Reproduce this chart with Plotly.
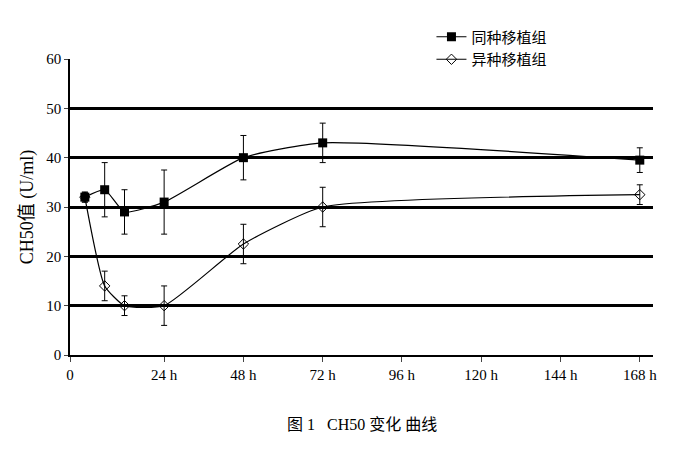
import plotly.graph_objects as go

hours = [0, 6, 12, 24, 48, 72, 168]
same = [32, 33.5, 29, 31, 40, 43, 39.5]
same_err = [1, 5.5, 4.5, 6.5, 4.5, 4, 2.5]
diff = [32, 14, 10, 10, 22.5, 30, 32.5]
diff_err = [1, 3, 2, 4, 4, 4, 2]
tick_vals = [-4.5, 24, 48, 72, 96, 120, 144, 168]
tick_text = ["0", "24 h", "48 h", "72 h", "96 h", "120 h", "144 h", "168 h"]

fig = go.Figure()
fig.add_trace(go.Scatter(
    x=hours, y=same, name="同种移植组", mode="lines+markers",
    line=dict(color="black", width=1.2, shape="spline", smoothing=0.5),
    marker=dict(symbol="square", size=9, color="black"),
    error_y=dict(array=same_err, color="black", thickness=1, width=3)))
fig.add_trace(go.Scatter(
    x=hours, y=diff, name="异种移植组", mode="lines+markers",
    line=dict(color="black", width=1.2, shape="spline", smoothing=0.5),
    marker=dict(symbol="diamond-open", size=8, color="black"),
    error_y=dict(array=diff_err, color="black", thickness=1, width=3)))

fig.update_layout(
    width=683, height=457, paper_bgcolor="white", plot_bgcolor="white",
    margin=dict(l=62, r=38, t=32, b=110),
    font=dict(family="Liberation Serif, Noto Sans CJK SC", size=15, color="black"),
    legend=dict(x=0.62, y=1.13, xanchor="left", yanchor="top", bgcolor="rgba(0,0,0,0)",
                font=dict(size=15, color="black")),
    xaxis=dict(range=[-4.5, 172], tickvals=tick_vals, ticktext=tick_text,
               showgrid=False, showline=True, linecolor="black", linewidth=1.5,
               ticks="outside", ticklen=5, zeroline=False),
    yaxis=dict(range=[0, 60], dtick=10, showgrid=True, gridcolor="black", gridwidth=2.5,
               showline=True, linecolor="black", linewidth=1.5, ticks="outside",
               ticklen=4, zeroline=False,
               title=dict(text="CH50值 (U/ml)", standoff=8, font=dict(color="black"))),
    annotations=[dict(text="图 1   CH50 变化 曲线", x=0.5, y=-0.27, xref="paper", yref="paper",
                      showarrow=False, font=dict(size=16, color="black"))])
fig.write_html("out.html")
